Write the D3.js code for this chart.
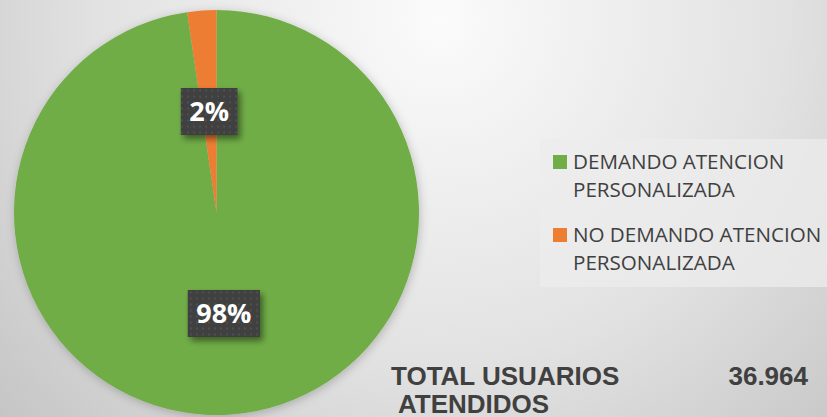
<!DOCTYPE html>
<html>
<head>
<meta charset="utf-8">
<script src="https://cdn.jsdelivr.net/npm/d3@7"></script>
<style>
  html, body { margin: 0; padding: 0; overflow: hidden; }
  svg { display: block; }
</style>
</head>
<body>
<svg width="827" height="417"></svg>
<script>
// data
var categories = ["DEMANDO ATENCION PERSONALIZADA", "NO DEMANDO ATENCION PERSONALIZADA"]
var legend_lines = [["DEMANDO ATENCION", "PERSONALIZADA"], ["NO DEMANDO ATENCION", "PERSONALIZADA"]]
var values = [36110, 854]
var pct_labels = ["98%", "2%"]
var colors = ["#70ad47", "#ed7d31"]
var total_label = ["TOTAL USUARIOS", "ATENDIDOS"]
var total_value = "36.964"

function setup_svg() {
    var svg = d3.select("svg"),
        width = +svg.attr("width"),
        height = +svg.attr("height")
    var defs = svg.append("defs")

    var bg = defs.append("radialGradient")
        .attr("id", "bg")
        .attr("gradientUnits", "userSpaceOnUse")
        .attr("cx", 440).attr("cy", 20).attr("r", 620)
    bg.append("stop").attr("offset", "0").attr("stop-color", "#fbfbfb")
    bg.append("stop").attr("offset", "0.55").attr("stop-color", "#e2e2e2")
    bg.append("stop").attr("offset", "1").attr("stop-color", "#c2c2c2")

    var pie_shadow = defs.append("filter").attr("id", "pieShadow")
        .attr("x", "-20%").attr("y", "-20%").attr("width", "140%").attr("height", "140%")
    pie_shadow.append("feDropShadow")
        .attr("dx", 1).attr("dy", 2).attr("stdDeviation", 5)
        .attr("flood-color", "#000").attr("flood-opacity", 0.22)

    var box_shadow = defs.append("filter").attr("id", "boxShadow")
        .attr("x", "-30%").attr("y", "-30%").attr("width", "160%").attr("height", "170%")
    box_shadow.append("feDropShadow")
        .attr("dx", 3).attr("dy", 4).attr("stdDeviation", 3)
        .attr("flood-color", "#000").attr("flood-opacity", 0.45)

    var dots = defs.append("pattern")
        .attr("id", "dots")
        .attr("patternUnits", "userSpaceOnUse")
        .attr("width", 6).attr("height", 6)
    dots.append("rect").attr("width", 6).attr("height", 6).attr("fill", "#3f3f3f")
    dots.append("circle").attr("cx", 3).attr("cy", 3).attr("r", 1).attr("fill", "#555555")

    svg.append("rect")
        .attr("width", width)
        .attr("height", height)
        .attr("fill", "url(#bg)")

    return { svg, width, height }
}

function draw_pie(svg) {
    var cx = 216.5, cy = 212.5, radius = 202.5
    var g = svg.append("g").attr("transform", "translate(" + cx + "," + cy + ")")

    var pie = d3.pie().sort(null).value(function (d) { return d })
    var arc = d3.arc().innerRadius(0).outerRadius(radius)
    var label_arc = d3.arc().innerRadius(0).outerRadius(radius)
    var arcs = pie(values)

    g.append("g")
        .attr("filter", "url(#pieShadow)")
        .selectAll("path")
        .data(arcs)
        .enter().append("path")
        .attr("d", arc)
        .attr("fill", function (d, i) { return colors[i] })

    var labels = g.selectAll(".pct")
        .data(arcs)
        .enter().append("g")
        .attr("class", "pct")
        .attr("transform", function (d) {
            var c = label_arc.centroid(d)
            return "translate(" + c[0] + "," + c[1] + ")"
        })

    var rects = labels.append("rect")
        .attr("fill", "url(#dots)")
        .attr("filter", "url(#boxShadow)")

    var texts = labels.append("text")
        .attr("text-anchor", "middle")
        .attr("dy", "0.36em")
        .attr("fill", "#ffffff")
        .style("font-family", "'Open Sans', sans-serif")
        .style("font-weight", "bold")
        .style("font-size", "27px")
        .text(function (d, i) { return pct_labels[i] })

    texts.each(function (d, i) {
        var w = this.getComputedTextLength() + 17
        d3.select(rects.nodes()[i])
            .attr("x", -w / 2)
            .attr("y", -23.5)
            .attr("width", w)
            .attr("height", 47)
    })
}

function display_legend(svg) {
    svg.append("rect")
        .attr("x", 540).attr("y", 139)
        .attr("width", 287).attr("height", 148)
        .attr("fill", "#ececec")
        .attr("fill-opacity", 0.75)

    var legend = svg.selectAll(".legend")
        .data(categories)
        .enter().append("g")
        .attr("class", "legend")
        .attr("transform", function (d, i) {
            return "translate(553," + (155 + i * 73) + ")"
        })

    legend.append("rect")
        .attr("width", 14)
        .attr("height", 14)
        .attr("fill", function (d, i) { return colors[i] })

    legend.append("text")
        .attr("fill", "#404040")
        .style("font-family", "'Open Sans', sans-serif")
        .style("font-size", "20.6px")
        .selectAll("tspan")
        .data(function (d, i) { return legend_lines[i] })
        .enter().append("tspan")
        .attr("x", 20)
        .attr("y", function (d, j) { return 13.5 + j * 28.5 })
        .text(function (d) { return d })
}

function display_total(svg) {
    var t = svg.append("g")
        .attr("fill", "#404040")
        .style("font-family", "'Liberation Sans', Arial, sans-serif")
        .style("font-weight", "bold")
        .style("font-size", "26px")

    t.append("text").attr("x", 391).attr("y", 385).text(total_label[0])
    t.append("text").attr("x", 398).attr("y", 413).text(total_label[1])
    t.append("text").attr("x", 808).attr("y", 385)
        .attr("text-anchor", "end")
        .text(total_value)
}

var { svg } = setup_svg()
draw_pie(svg)
display_legend(svg)
display_total(svg)
</script>
</body>
</html>
